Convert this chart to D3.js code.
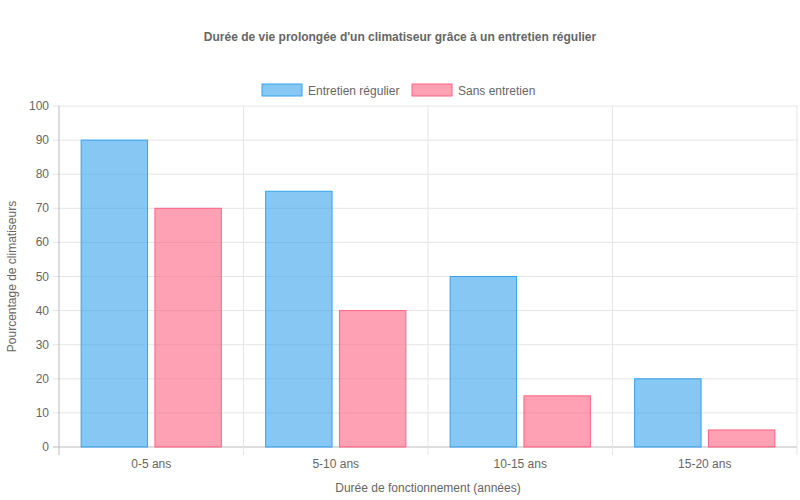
<!DOCTYPE html>
<html><head><meta charset="utf-8">
<script src="https://cdn.jsdelivr.net/npm/d3@7"></script>
<style>body{margin:0;background:#fff}text{font-family:"Liberation Sans",Arial,sans-serif}</style>
</head><body><div id="chart"></div>
<script>
const categories = ['0-5 ans', '5-10 ans', '10-15 ans', '15-20 ans']
const seriesNames = ['Entretien régulier', 'Sans entretien']
const entretien = [90, 75, 50, 20]
const sansEntretien = [70, 40, 15, 5]
const yTicks = [0, 10, 20, 30, 40, 50, 60, 70, 80, 90, 100]

const fills = ['rgba(54,162,235,0.6)', 'rgba(255,99,132,0.6)']
const strokes = ['rgb(54,162,235)', 'rgb(255,99,132)']
const series = [entretien, sansEntretien]

const plotLeft = 59, plotRight = 797, plotTop = 106, plotBottom = 447

const svg = d3.select('#chart').append('svg').attr('width', 800).attr('height', 500)

const x = d3.scaleBand().domain(categories).range([plotLeft, plotRight])
const inner = d3.scaleBand().domain([0, 1]).range([0, x.bandwidth() * 0.8]).paddingInner(0.1).paddingOuter(0.05)
const y = d3.scaleLinear().domain([0, 100]).range([plotBottom, plotTop])

// grid
svg.append('g').selectAll('line').data(yTicks).join('line')
  .attr('x1', plotLeft - 6).attr('x2', plotRight).attr('y1', d => y(d)).attr('y2', d => y(d))
  .attr('stroke', d => d === 0 ? '#bbb' : '#e5e5e5')
const xGrid = categories.map(c => x(c)).concat([plotRight])
svg.append('g').selectAll('line').data(xGrid).join('line')
  .attr('x1', d => d).attr('x2', d => d).attr('y1', plotTop).attr('y2', plotBottom + 8)
  .attr('stroke', (d, i) => i === 0 ? '#bbb' : '#e5e5e5')

// y labels
svg.append('g').selectAll('text').data(yTicks).join('text')
  .attr('x', plotLeft - 10).attr('y', d => y(d) + 4).attr('text-anchor', 'end')
  .attr('fill', '#666').style('font-size', '12px').text(d => d)

// x labels
svg.append('g').selectAll('text').data(categories).join('text')
  .attr('x', d => x(d) + x.bandwidth() / 2).attr('y', plotBottom + 21).attr('text-anchor', 'middle')
  .attr('fill', '#666').style('font-size', '12px').text(d => d)

// bars
series.forEach((vals, s) => {
  svg.append('g').selectAll('rect').data(vals).join('rect')
    .attr('x', (d, i) => x(categories[i]) + x.bandwidth() * 0.1 + inner(s))
    .attr('width', inner.bandwidth())
    .attr('y', d => y(d)).attr('height', d => plotBottom - y(d))
    .attr('fill', fills[s]).attr('stroke', strokes[s]).attr('stroke-width', 1)
})

// title
svg.append('text').attr('x', 400).attr('y', 41).attr('text-anchor', 'middle')
  .attr('fill', '#666').style('font-size', '12px').style('font-weight', 'bold')
  .text("Durée de vie prolongée d'un climatiseur grâce à un entretien régulier")

// legend
const legendX = [262, 412]
seriesNames.forEach((n, s) => {
  svg.append('rect').attr('x', legendX[s]).attr('y', 84).attr('width', 40).attr('height', 12)
    .attr('fill', fills[s]).attr('stroke', strokes[s])
  svg.append('text').attr('x', legendX[s] + 46).attr('y', 94.5)
    .attr('fill', '#666').style('font-size', '12px').text(n)
})

// axis titles
svg.append('text').attr('x', 428).attr('y', 492).attr('text-anchor', 'middle')
  .attr('fill', '#666').style('font-size', '12px').text('Durée de fonctionnement (années)')
svg.append('text').attr('transform', `translate(16,${(plotTop + plotBottom) / 2}) rotate(-90)`)
  .attr('text-anchor', 'middle').attr('fill', '#666').style('font-size', '12px')
  .text('Pourcentage de climatiseurs')
</script></body></html>
